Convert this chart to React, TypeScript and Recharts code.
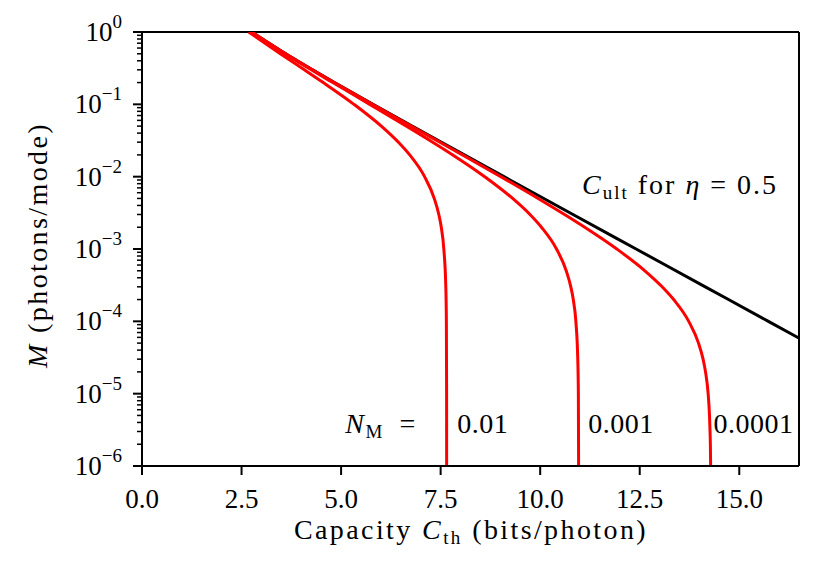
import React from "react";
import { LineChart, Line, XAxis, YAxis, ReferenceLine, ReferenceDot, Customized } from "recharts";

// Ultimate capacity, eta = 0.5 : capacity (bits/photon) vs M (photons/mode)
const ultC = [2.755, 3.61, 4.283, 4.834, 5.8, 6.783, 7.512, 9.09, 10.824, 12.409, 14.146, 15.731, 16.73];
const ultM = [1, 0.5, 0.3, 0.2, 0.1, 0.05, 0.03, 0.01, 0.003, 0.001, 3e-4, 1e-4, 5e-5];

// N_M = 0.01
const n1C = [2.68, 3.474, 4.077, 4.551, 5.324, 6.01, 6.438, 6.723, 7.097, 7.34, 7.454, 7.516, 7.58, 7.63, 7.644, 7.65, 7.651];
const n1M = [1, 0.5, 0.3, 0.2, 0.1, 0.05, 0.03, 0.02, 0.01, 0.005, 0.003, 0.002, 0.001, 3e-4, 1e-4, 1e-5, 1e-6];

// N_M = 0.001
const n2C = [2.744, 3.59, 4.251, 4.79, 5.72, 6.641, 7.301, 7.805, 8.607, 9.309, 9.744, 10.032, 10.41, 10.654, 10.769, 10.831, 10.896, 10.944, 10.959, 10.965];
const n2M = [1, 0.5, 0.3, 0.2, 0.1, 0.05, 0.03, 0.02, 0.01, 0.005, 0.003, 0.002, 0.001, 5e-4, 3e-4, 2e-4, 1e-4, 3e-5, 1e-5, 1e-6];

// N_M = 0.0001
const n3C = [2.754, 3.607, 4.279, 5.789, 6.762, 7.48, 8.048, 9.01, 9.947, 10.612, 11.119, 11.925, 12.629, 13.064, 13.353, 13.731, 13.976, 14.091, 14.152, 14.218, 14.252, 14.266, 14.274, 14.281];
const n3M = [1, 0.5, 0.3, 0.1, 0.05, 0.03, 0.02, 0.01, 0.005, 0.003, 0.002, 0.001, 5e-4, 3e-4, 2e-4, 1e-4, 5e-5, 3e-5, 2e-5, 1e-5, 5e-6, 3e-6, 2e-6, 1e-6];

const xTicks = [0, 2.5, 5, 7.5, 10, 12.5, 15];
const xTickLabels = ["0.0", "2.5", "5.0", "7.5", "10.0", "12.5", "15.0"];
const yMajorExps = [0, -1, -2, -3, -4, -5, -6];
const yMinorMult = [2, 3, 4, 5, 6, 7, 8, 9];
const noiseLabels = ["0.01", "0.001", "0.0001"];
const noiseLabelC = [7.92, 11.21, 14.35];

const toRows = (c: number[], m: number[]) => c.map((v, i) => ({ c: v, m: m[i] }));
const ultData = toRows(ultC, ultM);
const n1Data = toRows(n1C, n1M);
const n2Data = toRows(n2C, n2M);
const n3Data = toRows(n3C, n3M);

const yTicks: number[] = yMajorExps.map((e) => Math.pow(10, e));
const yMinor: number[] = [];
yMajorExps.slice(1).forEach((e) => yMinorMult.forEach((k) => yMinor.push(k * Math.pow(10, e))));
// minor tick length expressed in x-axis units (about 5px)
const MINOR_LEN = 0.126;

const FONT = "'Liberation Serif', 'Times New Roman', serif";
const FS = 27;
const LFS = 28;
const SUB = 19;
const LS = 2.4;

const YTick = (props: any) => {
  const { x, y, payload } = props;
  const e = Math.round(Math.log10(payload.value));
  return (
    <g>
      <line x1={x} x2={x - 9} y1={y} y2={y} stroke="#000" strokeWidth={2} />
      <text x={x - 20} y={y} textAnchor="end" dominantBaseline="central" fontFamily={FONT} fontSize={FS} fill="#000">
        <tspan>10</tspan>
        <tspan dy={-11} fontSize={SUB}>{e === 0 ? "0" : "\u2212" + Math.abs(e)}</tspan>
      </text>
    </g>
  );
};

const XTick = (props: any) => {
  const { x, y, payload, index } = props;
  return (
    <g>
      <line x1={x} x2={x} y1={y} y2={y + 9} stroke="#000" strokeWidth={2} />
      <text x={x} y={y + 42} textAnchor="middle" fontFamily={FONT} fontSize={FS} fill="#000">
        {xTickLabels[xTicks.indexOf(payload.value)] ?? xTickLabels[index]}
      </text>
    </g>
  );
};

const AxisLabels = () => (
  <g fontFamily={FONT} fontSize={LFS} fill="#000" letterSpacing={LS}>
    <text x={471} y={539} textAnchor="middle">
      <tspan>Capacity </tspan>
      <tspan fontStyle="italic">C</tspan>
      <tspan fontSize={SUB} dy={5}>th</tspan>
      <tspan dy={-5}> (bits/photon)</tspan>
    </text>
    <text x={47} y={245} textAnchor="middle" transform="rotate(-90 47 245)">
      <tspan fontStyle="italic">M</tspan>
      <tspan> (photons/mode)</tspan>
    </text>
  </g>
);

const textShape = (content: React.ReactNode, anchor: string, spacing: number) => (p: any) => (
  <text x={p.cx} y={p.cy} textAnchor={anchor} fontFamily={FONT} fontSize={LFS} fill="#000" letterSpacing={spacing}>
    {content}
  </text>
);

export default function App() {
  return (
    <div style={{ position: "absolute", left: 0, top: 0, width: 831, height: 576, background: "#fff" }}>
      <LineChart width={831} height={576} margin={{ top: 32, right: 32, bottom: 0, left: 0 }}>
        <XAxis
          dataKey="c"
          type="number"
          domain={[0, 16.5]}
          allowDataOverflow
          ticks={xTicks}
          interval={0}
          height={110}
          tickSize={0}
          tickMargin={0}
          tickLine={false}
          axisLine={{ stroke: "#000", strokeWidth: 2 }}
          tick={<XTick />}
        />
        <YAxis
          dataKey="m"
          type="number"
          scale="log"
          domain={[1e-6, 1]}
          allowDataOverflow
          ticks={yTicks}
          interval={0}
          width={142}
          tickSize={0}
          tickMargin={0}
          tickLine={false}
          axisLine={{ stroke: "#000", strokeWidth: 2 }}
          tick={<YTick />}
        />
        {yMinor.map((v) => (
          <ReferenceLine
            key={"minor" + v}
            segment={[
              { x: -MINOR_LEN, y: v },
              { x: 0, y: v },
            ]}
            ifOverflow="visible"
            stroke="#000"
            strokeWidth={1.5}
          />
        ))}
        <ReferenceLine y={1} stroke="#000" strokeWidth={2} />
        <ReferenceLine x={16.5} stroke="#000" strokeWidth={2} />
        <Line data={ultData} dataKey="m" type="monotone" stroke="#000" strokeWidth={3} dot={false} isAnimationActive={false} />
        <Line data={n1Data} dataKey="m" type="monotone" stroke="#ff0000" strokeWidth={3} dot={false} isAnimationActive={false} />
        <Line data={n2Data} dataKey="m" type="monotone" stroke="#ff0000" strokeWidth={3} dot={false} isAnimationActive={false} />
        <Line data={n3Data} dataKey="m" type="monotone" stroke="#ff0000" strokeWidth={3} dot={false} isAnimationActive={false} />
        <ReferenceDot
          x={11.05}
          y={5.7e-3}
          r={0}
          shape={textShape(
            <>
              <tspan fontStyle="italic">C</tspan>
              <tspan fontSize={SUB} dy={5}>ult</tspan>
              <tspan dy={-5}> for </tspan>
              <tspan fontStyle="italic">η</tspan>
              <tspan> = 0.5</tspan>
            </>,
            "start",
            2
          )}
        />
        <ReferenceDot
          x={6.9}
          y={2.83e-6}
          r={0}
          shape={textShape(
            <>
              <tspan fontStyle="italic">N</tspan>
              <tspan fontSize={SUB} dy={5}>M</tspan>
              <tspan dy={-5}>{"\u2002="}</tspan>
            </>,
            "end",
            1.5
          )}
        />
        {noiseLabels.map((t, i) => (
          <ReferenceDot key={t} x={noiseLabelC[i]} y={2.83e-6} r={0} shape={textShape(t, "start", 0.5)} />
        ))}
        <Customized component={<AxisLabels />} />
      </LineChart>
    </div>
  );
}
